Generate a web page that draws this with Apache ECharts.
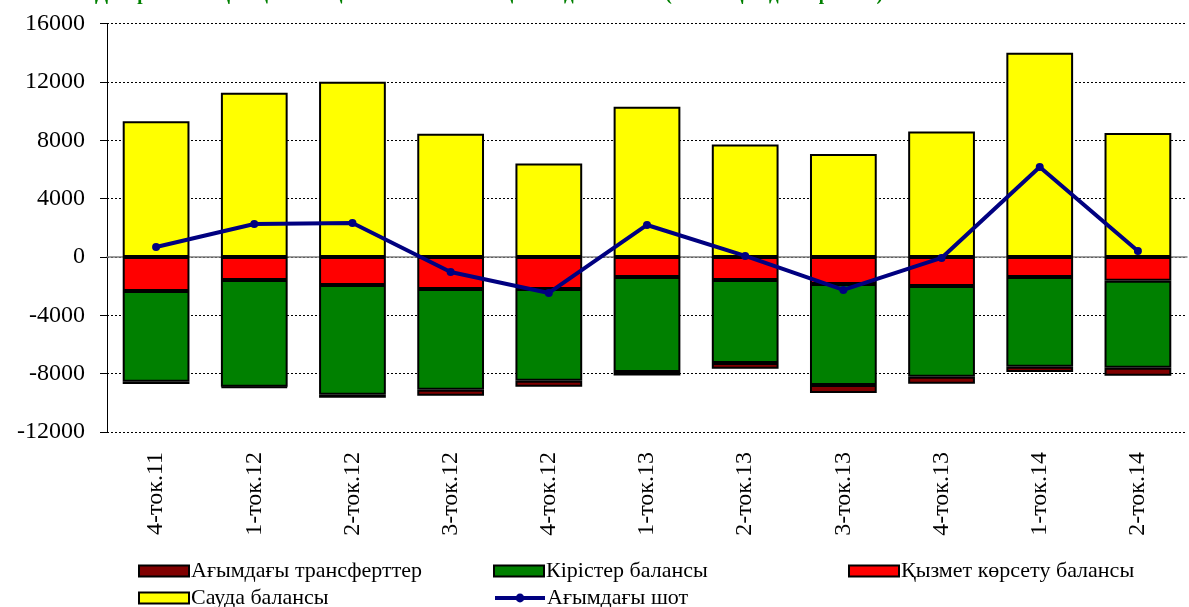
<!DOCTYPE html>
<html>
<head>
<meta charset="utf-8">
<script src="https://cdn.jsdelivr.net/npm/echarts@6/dist/echarts.min.js"></script>
<style>
  html, body { margin: 0; padding: 0; background: #fff; }
  #chart { width: 1189px; height: 607px; }
</style>
</head>
<body>
<div id="chart"></div>
<script>
// quarters
var quarters = ['4-ток.11', '1-ток.12', '2-ток.12', '3-ток.12', '4-ток.12', '1-ток.13',
                '2-ток.13', '3-ток.13', '4-ток.13', '1-ток.14', '2-ток.14'];

// balances, млн. долл.
var tradeBalance    = [9300, 11250, 12000, 8450, 6400, 10300, 7700, 7050, 8600, 14000, 8500];
var servicesBalance = [-2330, -1580, -1920, -2190, -2190, -1370, -1580, -1850, -1990, -1370, -1640];
var incomeBalance   = [-6230, -7320, -7530, -6920, -6300, -6510, -5690, -6920, -6230, -6160, -5960];
var transfers       = [-150, -60, -200, -400, -400, -250, -400, -550, -480, -350, -550];
var currentAccount  = [680, 2260, 2330, -1030, -2470, 2190, 70, -2260, -70, 6160, 410];

var yTicks = { min: -12000, max: 16000, step: 4000 };

var serif = '"Liberation Serif", "DejaVu Serif", serif';

var chart = echarts.init(document.getElementById('chart'));

function barSeries(name, data, color) {
    return {
        name: name,
        type: 'bar',
        stack: 'ca',
        barWidth: '68%',
        data: data,
        itemStyle: { color: color, borderColor: '#000', borderWidth: 2 }
    };
}

// one legend per entry, so the two rows / three columns sit like the original
function legendItem(name, left, top, isLine) {
    return {
        left: left, top: top, padding: 0, itemGap: 0,
        itemWidth: 50, itemHeight: 11,
        textStyle: { fontFamily: serif, fontSize: 22, color: '#000', padding: [0, 0, 0, -3] },
        itemStyle: isLine ? {} : { borderColor: '#000', borderWidth: 2 },
        lineStyle: isLine ? { width: 4 } : {},
        data: [isLine ? { name: name } : { name: name, icon: 'rect' }]
    };
}

chart.setOption({
    animation: false,
    title: {
        text: 'Диаграмма 6. Қазақстанның төлем балансының ағымдағы шоты (млн. АҚШ долларымен)',
        left: 90,
        top: -19,
        textStyle: { fontFamily: serif, fontSize: 19, fontWeight: 'bold', color: '#008000' }
    },
    grid: { left: 107, right: 2, top: 23.5, bottom: 175 },
    legend: [
        legendItem('Ағымдағы трансферттер', 138, 560),
        legendItem('Кірістер балансы', 493, 560),
        legendItem('Қызмет көрсету балансы', 848, 560),
        legendItem('Сауда балансы', 138, 587),
        legendItem('Ағымдағы шот', 493, 587, true)
    ],
    xAxis: [
        {
            type: 'category',
            data: quarters,
            position: 'bottom',
            axisLine: { show: false, onZero: false },
            axisTick: { show: false },
            axisLabel: {
                rotate: 90, margin: 20, fontFamily: serif, fontSize: 24, color: '#000'
            }
        },
        {
            type: 'category',
            data: quarters,
            position: 'top',
            axisLine: { onZero: true, lineStyle: { color: '#808080', width: 1.5 } },
            axisTick: { inside: true, length: 6, lineStyle: { color: '#808080' } },
            axisLabel: { show: false }
        }
    ],
    yAxis: {
        type: 'value',
        min: yTicks.min,
        max: yTicks.max,
        interval: yTicks.step,
        axisLine: { show: true, lineStyle: { color: '#000', width: 1 } },
        axisTick: { show: true, length: 7, lineStyle: { color: '#000' } },
        axisLabel: {
            fontFamily: serif, fontSize: 24, color: '#000', margin: 22,
            formatter: function (v) { return String(v); }
        },
        splitLine: { lineStyle: { color: '#000', type: [2, 2], width: 1 } }
    },
    series: [
        barSeries('Қызмет көрсету балансы', servicesBalance, '#ff0000'),
        barSeries('Кірістер балансы', incomeBalance, '#008000'),
        barSeries('Ағымдағы трансферттер', transfers, '#800000'),
        barSeries('Сауда балансы', tradeBalance, '#ffff00'),
        {
            name: 'Ағымдағы шот',
            type: 'line',
            data: currentAccount,
            symbol: 'circle',
            symbolSize: 8,
            z: 5,
            lineStyle: { color: '#000080', width: 4 },
            itemStyle: { color: '#000080' }
        }
    ]
});
</script>
</body>
</html>
